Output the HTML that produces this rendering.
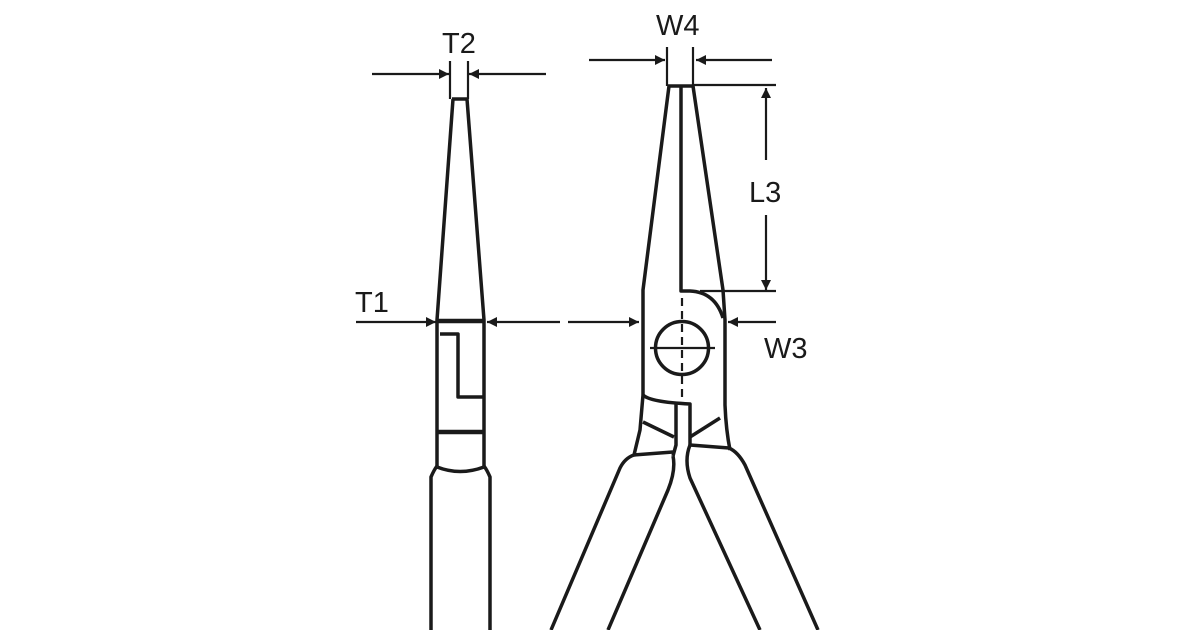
<!DOCTYPE html>
<html><head><meta charset="utf-8"><style>
html,body{margin:0;padding:0;background:#fff;}
svg{display:block}
text{font-family:"Liberation Sans",sans-serif;font-size:29px;fill:#1a1a1a}
</style></head><body>
<svg width="1200" height="630" viewBox="0 0 1200 630" xmlns="http://www.w3.org/2000/svg">
<defs>
<marker id="a" viewBox="0 0 10 10" refX="10" refY="5" markerWidth="13" markerHeight="10" markerUnits="userSpaceOnUse" orient="auto">
<path d="M0,0 L10,5 L0,10 Z" fill="#1a1a1a"/></marker>
</defs>
<g stroke="#1a1a1a" fill="none" stroke-width="2.2">
<line x1="372" y1="74" x2="449" y2="74" marker-end="url(#a)"/>
<line x1="546" y1="74" x2="469" y2="74" marker-end="url(#a)"/>
<line x1="450" y1="61" x2="450" y2="99"/>
<line x1="468" y1="61" x2="468" y2="99"/>
<line x1="356" y1="322" x2="436" y2="322" marker-end="url(#a)"/>
<line x1="560" y1="322" x2="487" y2="322" marker-end="url(#a)"/>
<line x1="568" y1="322" x2="639" y2="322" marker-end="url(#a)"/>
<line x1="589" y1="60" x2="665" y2="60" marker-end="url(#a)"/>
<line x1="772" y1="60" x2="696" y2="60" marker-end="url(#a)"/>
<line x1="667" y1="47" x2="667" y2="86"/>
<line x1="693" y1="47" x2="693" y2="86"/>
<line x1="693" y1="85" x2="776" y2="85"/>
<line x1="766" y1="160" x2="766" y2="88" marker-end="url(#a)"/>
<line x1="766" y1="215" x2="766" y2="290" marker-end="url(#a)"/>
<line x1="700" y1="291" x2="776" y2="291"/>
<line x1="776" y1="322" x2="728" y2="322" marker-end="url(#a)"/>
</g>
<g stroke="#1a1a1a" fill="none" stroke-width="3.5" stroke-linejoin="round">
<line x1="452" y1="99" x2="468" y2="99"/>
<path d="M453,99 L437,320 L437,466"/>
<path d="M467,99 L484,320 L484,466"/>
<line x1="437" y1="321" x2="484" y2="321" stroke-width="4.5"/>
<path d="M440,334 L458,334 L458,397 L484,397"/>
<line x1="437" y1="432" x2="484" y2="432" stroke-width="4.5"/>
<path d="M437,466 Q434,470 431,477 L431,630"/>
<path d="M484,466 Q487,470 490,477 L490,630"/>
<path d="M437,467 Q460,476 484,467"/>
<line x1="668" y1="86" x2="694" y2="86"/>
<path d="M669,86 L643,290 L643,395"/>
<path d="M681,87 L681,291 L690,291 Q715,292 723,318"/>
<path d="M693,86 L723,290 L725,320 L725,405 Q726,430 730,450"/>
<circle cx="682" cy="348" r="26.5"/>
<path d="M643,395 Q650,402 690,404 L690,445"/>
<path d="M643,395 L640,430 L634,455"/>
<path d="M676,404 L676,445 L673,456"/>
<path d="M643,422 L674,437"/>
<path d="M690,437 L720,418"/>
<path d="M634,455 L673,452"/>
<path d="M690,445 L729,448"/>
<path d="M634,455 Q625,458 620,468 L551,630"/>
<path d="M673,456 Q676,470 668,490 L608,630"/>
<path d="M690,445 Q684,460 690,478 L760,630"/>
<path d="M729,448 Q738,452 745,465 L818,630"/>
</g>
<g stroke="#1a1a1a" stroke-width="2.2" fill="none">
<line x1="650" y1="348" x2="715" y2="348"/>
<line x1="682" y1="298" x2="682" y2="402" stroke-dasharray="8,5"/>
</g>
<text x="442" y="53">T2</text>
<text x="656" y="35">W4</text>
<text x="749" y="202">L3</text>
<text x="355" y="312">T1</text>
<text x="764" y="358">W3</text>
</svg>
</body></html>
